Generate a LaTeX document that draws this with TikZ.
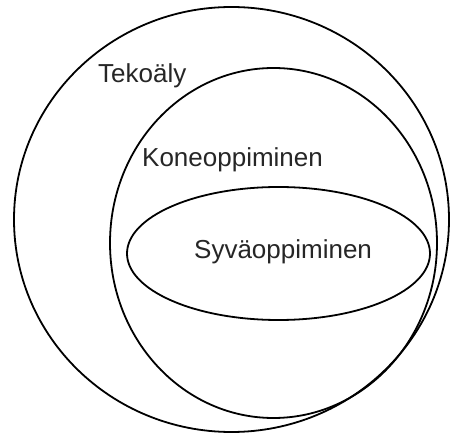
\documentclass[tikz,border=0pt]{standalone}
\usepackage{fontspec}
\setmainfont{Liberation Sans}
\begin{document}
\begin{tikzpicture}[x=1pt,y=-1pt,
  setline/.style={draw=black,line width=1.8pt},
  setlabel/.style={anchor=base west,inner sep=0pt,font=\fontsize{26}{30}\selectfont,text=black!85}]
\useasboundingbox (0,0) rectangle (450,435);
\fill[white] (0,0) rectangle (450,435);
\draw[setline] (231.5,219.5) ellipse [x radius=217.5, y radius=212.5];
\draw[setline] (273.5,243) ellipse [x radius=163.5, y radius=175];
\draw[setline] (278.5,253.5) ellipse [x radius=151.5, y radius=66.5];
\node[setlabel] (ai) at (98,83) {Tekoäly};
\node[setlabel] (ml) at (142,167) {Koneoppiminen};
\node[setlabel] (dl) at (194,259) {Syväoppiminen};
\end{tikzpicture}
\end{document}
